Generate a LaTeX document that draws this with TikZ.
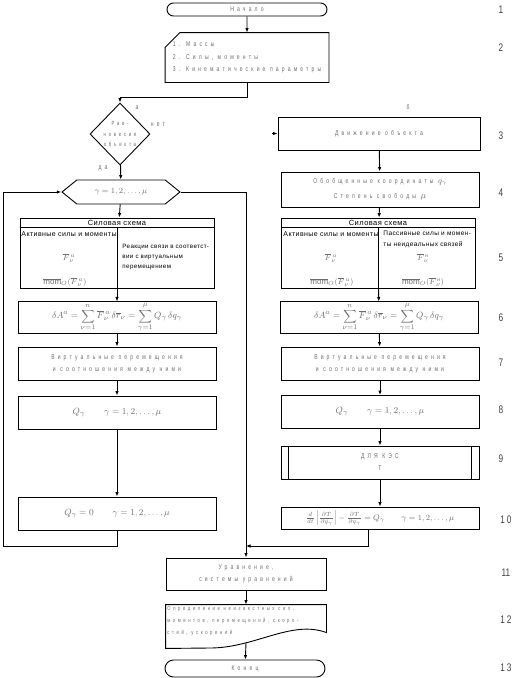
\documentclass[tikz,border=0pt]{standalone}
\usepackage{amsmath}
\usepackage{fontspec}
\setmainfont{Liberation Sans}
\newfontfamily\boxfont[FakeStretch=0.72,LetterSpace=45]{Liberation Sans}
\newfontfamily\schfont[LetterSpace=6]{Liberation Sans}
\newfontfamily\numfont[FakeStretch=0.75]{Liberation Sans}
\usetikzlibrary{arrows.meta,shapes.misc,shapes.geometric,shapes.symbols}
\definecolor{TxtClr}{gray}{0.42}
\newcommand{\WorkEq}{$\displaystyle \delta A^{a}=\sum_{\nu=1}^{n}\overline{F}{}^{\,a}_{\nu}\,\delta\overline{r}_{\nu}=\sum_{\gamma=1}^{\mu}Q_{\gamma}\,\delta q_{\gamma}$}
\newcommand{\GamRange}{\gamma=1,2,\ldots,\mu}

\begin{document}
\begin{tikzpicture}[x=1pt,y=-1pt,line width=0.9pt,
  flow/.style={-{Latex[length=4.5pt,width=3.5pt]}},
  blk/.style={draw,minimum width=198pt,minimum height=33pt,inner sep=1pt,
    font=\fontsize{7}{12}\selectfont\boxfont,text=TxtClr,align=center},
  mathblk/.style={blk,font=\fontsize{9.5}{11}\selectfont},
  term/.style={draw,rounded rectangle,minimum width=160pt,inner sep=0pt,
    font=\fontsize{7}{8}\selectfont\boxfont,text=TxtClr},
  note/.style={font=\fontsize{7}{8}\selectfont\boxfont,text=TxtClr,inner sep=0pt},
  schtxt/.style={font=\fontsize{7}{10}\selectfont\schfont,inner sep=0pt},
  formula/.style={font=\fontsize{8}{10}\selectfont,text=TxtClr,inner sep=0pt},
  num/.style={font=\fontsize{11}{12}\selectfont\numfont,text=black!75,inner sep=0pt}]

\useasboundingbox (0,0) rectangle (515,678);

% start and input
\node[term,minimum height=13pt] (start) at (247,9.5) {Начало};
\node[minimum width=163pt,minimum height=49pt,inner sep=0pt,align=left,
  font=\fontsize{7}{12.5}\selectfont\boxfont,text=TxtClr] (inp) at (247,57.5)
  {1. Массы\\2. Силы, моменты\\3. Кинематические параметры};
\draw ([yshift=-15pt]inp.north west) -- ([xshift=15pt]inp.north west)
  -- (inp.north east) -- (inp.south east) -- (inp.south west) -- cycle;

% decision
\node[draw,diamond,aspect=1,minimum width=60pt,minimum height=62pt,inner sep=0pt,
  align=center,font=\fontsize{6}{10.5}\selectfont\boxfont,text=TxtClr] (dia) at (120,134)
  {Рав-\\новесие\\объекта};
\node[note] at (137,108) {а};
\node[note] at (158,125) {нет};
\node[note] at (103,168) {да};
\node[note] at (408,107) {б};

% left column
\node[draw,signal,signal to=east and west,signal pointer angle=78,
  minimum width=118pt,minimum height=24pt,inner sep=0pt,
  font=\fontsize{8.5}{10}\selectfont,text=TxtClr] (loop) at (121,192) {$\GamRange$};
\node[draw,minimum width=194pt,minimum height=70pt] (schL) at (117,253) {};
\node[mathblk,minimum height=31pt] (workL) at (117,317.5) {\WorkEq};
\node[blk] (virtL) at (117,363.5) {Виртуальные перемещения\\и соотношения между ними};
\node[mathblk] (genL) at (117,412.5) {$Q_{\gamma}\qquad\GamRange$};
\node[mathblk] (zeroL) at (117,513.5) {$Q_{\gamma}=0\qquad\GamRange$};

% right column
\node[blk,minimum width=202pt] (mov) at (379,133.5) {Движение объекта};
\node[blk,minimum height=35pt] (gcoord) at (380,189.5)
  {Обобщенные координаты \fontsize{8.5}{10}\selectfont$q_{\gamma}$\\[3pt]Степень свободы \fontsize{9}{10}\selectfont$\mu$};
\node[draw,minimum width=194pt,minimum height=70pt] (schR) at (378,253) {};
\node[mathblk,minimum height=31pt] (workR) at (379,317.5) {\WorkEq};
\node[blk] (virtR) at (380,363.5) {Виртуальные перемещения\\и соотношения между ними};
\node[mathblk] (genR) at (380,412) {$Q_{\gamma}\qquad\GamRange$};
\node[blk] (kin) at (380,462.5) {ДЛЯ КЭС\\T};
\draw ([xshift=8pt]kin.north west) -- ([xshift=8pt]kin.south west);
\draw ([xshift=-8pt]kin.north east) -- ([xshift=-8pt]kin.south east);
\node[blk,minimum height=22pt,font=\fontsize{8.5}{9}\selectfont] (lagr) at (380,518)
  {$\frac{d}{dt}\left|\frac{\partial T}{\partial\dot q_{\gamma}}\right|-\frac{\partial T}{\partial q_{\gamma}}=Q_{\gamma}\qquad\GamRange$};

% force schemes
\foreach \s in {schL,schR}{
  \draw ([yshift=-10pt]\s.north west) -- ([yshift=-10pt]\s.north east);
  \draw ([yshift=-10pt]\s.north) -- (\s.south);
  \node[schtxt,font=\fontsize{7.5}{10}\selectfont\schfont] at ([yshift=-5pt]\s.north) {Силовая схема};
}
\node[schtxt,anchor=west] at (21,234) {Активные силы и моменты};
\node[schtxt,anchor=north west,align=left,font=\fontsize{6.2}{10}\selectfont\schfont]
  at (122,244) {Реакции связи в соответст-\\вии с виртуальным\\перемещением};
\node[formula] at (69,258) {$\overline{F}{}^{\,a}_{\nu}$};
\node[formula] at (65,282) {$\overline{\mathrm{mom}}_{O}(\overline{F}{}^{\,a}_{\nu})$};
\node[schtxt,anchor=west] at (283,234) {Активные силы и моменты};
\node[schtxt,anchor=north west,align=left,font=\fontsize{6.5}{10.5}\selectfont\schfont] at (383,231)
  {Пассивные силы и момен-\\ты неидеальных связей};
\node[formula] at (331,258) {$\overline{F}{}^{\,a}_{\nu}$};
\node[formula] at (332,282) {$\overline{\mathrm{mom}}_{O}(\overline{F}{}^{\,a}_{\nu})$};
\node[formula] at (423,258) {$\overline{F}{}^{\,\mbox{\schfont\tiny н}}_{\nu}$};
\node[formula] at (423,282) {$\overline{\mathrm{mom}}_{O}(\overline{F}{}^{\,\mbox{\schfont\tiny н}}_{\nu})$};

% bottom
\node[blk,minimum width=160pt,minimum height=32pt] (eq) at (246,574)
  {Уравнение,\\системы уравнений};
\node[minimum width=160pt,minimum height=43pt,inner sep=0pt] (res) at (246,626.5) {};
\draw (res.north west) -- (res.north east) -- ++(0,28)
  .. controls +(-35,-13) and +(45,0) .. (210,648) -- (res.south west) -- cycle;
\node[note,anchor=north west,align=left,font=\fontsize{5.8}{12}\selectfont\boxfont]
  at (167,606) {Определение неизвестных сил,\\моментов, перемещений, скоро-\\стей, ускорений};
\node[term,minimum height=17pt] (fin) at (245,668.5) {Конец};

% connectors
\draw[flow] (start) -- (inp);
\draw[flow] (inp.south) -- ++(0,15) -| (dia.north);
\coordinate (nostub) at (272,133.5);
\draw[flow] (nostub) -- (mov.west);
\draw[flow] (dia) -- (loop);
\draw[flow] (loop) -- (schL);
\draw[flow] (schL) -- (workL);
\draw[flow] (workL) -- (virtL);
\draw[flow] (virtL) -- (genL);
\draw[flow] (genL) -- (zeroL);
\coordinate (backL) at (3,546);
\draw[flow] (zeroL.south) |- (backL) |- (loop.west);
\draw[flow] (loop.east) -| (eq.north);
\draw[flow] (mov) -- (gcoord);
\draw[flow] (gcoord) -- (schR);
\draw[flow] (schR) -- (workR);
\draw[flow] (workR) -- (virtR);
\draw[flow] (virtR) -- (genR);
\draw[flow] (genR) -- (kin);
\draw[flow] (kin) -- (lagr);
\coordinate (joinR) at (246,546);
\draw[flow] ([xshift=-12pt]lagr.south) |- (joinR);
\draw[flow] (eq) -- (res.north);
\coordinate (resout) at (246,643);
\draw[flow] (resout) -- (fin);

% step numbers
\foreach \n/\y in {1/9.5,2/48,3/136,4/193,5/258,6/318,7/363,8/410,9/459}
  \node[num] at (501,\y) {\n};
\foreach \n/\y in {1\,0/520,11/573,1\,2/620,1\,3/668}
  \node[num] at (506,\y) {\n};
\end{tikzpicture}
\end{document}
